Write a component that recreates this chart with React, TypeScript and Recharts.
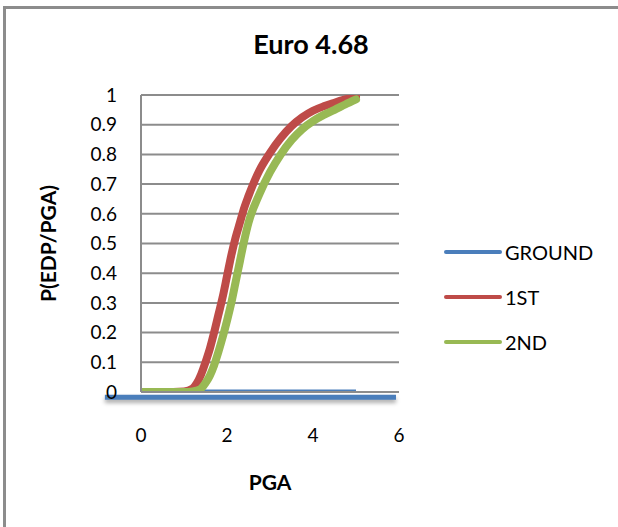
import React from 'react';
import {
  LineChart,
  Line,
  XAxis,
  YAxis,
  CartesianGrid,
  Legend,
  ReferenceLine,
} from 'recharts';

// PGA sample points shared by all three curves
const pga = [0, 0.5, 1.0, 1.2, 1.3, 1.4, 1.5, 1.6, 1.7, 1.8, 1.9, 2.0, 2.1, 2.2, 2.3, 2.4, 2.5, 2.75, 3.0, 3.25, 3.5, 3.75, 4.0, 4.25, 4.5, 4.75, 5.0];

// Exceedance probability per level
const ground = [0, 0, 0, 0, 0, 0, 0, 0, 0, 0, 0, 0, 0, 0, 0, 0, 0, 0, 0, 0, 0, 0, 0, 0, 0, 0, 0];
const first = [0, 0, 0.002, 0.012, 0.03, 0.06, 0.1, 0.145, 0.2, 0.26, 0.32, 0.39, 0.46, 0.52, 0.57, 0.62, 0.66, 0.745, 0.805, 0.855, 0.895, 0.925, 0.947, 0.962, 0.974, 0.985, 0.995];
const second = [0, 0, 0, 0.002, 0.005, 0.012, 0.03, 0.055, 0.09, 0.135, 0.185, 0.24, 0.3, 0.37, 0.44, 0.51, 0.57, 0.665, 0.74, 0.8, 0.848, 0.885, 0.912, 0.933, 0.95, 0.968, 0.985];

// Base stroke drawn under the ground series
const groundBase = [
  { x: -0.84, y: -0.018 },
  { x: 5.93, y: -0.018 },
];

const xTicks = [0, 2, 4, 6];
const yTicks = [0, 0.1, 0.2, 0.3, 0.4, 0.5, 0.6, 0.7, 0.8, 0.9, 1];

const seriesNames = ['GROUND', '1ST', '2ND'];
const seriesColors = ['#4a7ebb', '#be4b48', '#98b954'];

const data = pga.map((x, i) => ({
  pga: x,
  ground: ground[i],
  first: first[i],
  second: second[i],
}));

const FONT = 'Lato, "Open Sans", sans-serif';
const GRID = '#8c8c8c';

const LegendBox = () => (
  <div style={{ fontFamily: FONT, fontSize: 20, color: '#000' }}>
    {seriesNames.map((name, i) => (
      <div key={name} style={{ display: 'flex', alignItems: 'center', height: 45 }}>
        <svg width={60} height={10} style={{ display: 'block' }}>
          <line x1={3} y1={5} x2={57} y2={5} stroke={seriesColors[i]} strokeWidth={4} strokeLinecap="round" />
        </svg>
        <span style={{ marginLeft: 2 }}>{name}</span>
      </div>
    ))}
  </div>
);

export default function App() {
  return (
    <div style={{ position: 'absolute', left: 0, top: 0, width: 618, height: 527, background: '#fff', overflow: 'hidden' }}>
      <div
        style={{
          position: 'absolute',
          left: 3,
          top: 6,
          width: 620,
          height: 530,
          borderLeft: `3px solid ${GRID}`,
          borderTop: `3px solid ${GRID}`,
          boxSizing: 'border-box',
        }}
      />
      <div
        style={{
          position: 'absolute',
          left: 0,
          width: 622,
          top: 27,
          textAlign: 'center',
          fontFamily: FONT,
          fontWeight: 700,
          fontSize: 27,
          color: '#000',
        }}
      >
        Euro 4.68
      </div>
      <LineChart
        width={618}
        height={527}
        data={data}
        margin={{ top: 95, right: 219, bottom: 55, left: 81 }}
        style={{ position: 'absolute', left: 0, top: 0 }}
      >
        <CartesianGrid vertical={false} stroke={GRID} strokeWidth={2} />
        <XAxis
          type="number"
          dataKey="pga"
          domain={[0, 6]}
          allowDataOverflow
          ticks={xTicks}
          height={80}
          axisLine={{ stroke: GRID, strokeWidth: 2 }}
          tickLine={false}
          tickSize={0}
          tickMargin={37}
          tick={{ fill: '#000', fontSize: 19, fontFamily: FONT }}
          label={(props: any) => {
            const vb = props.viewBox;
            return (
              <text
                x={vb.x + vb.width / 2}
                y={481}
                textAnchor="middle"
                dominantBaseline="central"
                fontFamily={FONT}
                fontWeight={700}
                fontSize={21}
                fill="#000"
              >
                PGA
              </text>
            );
          }}
        />
        <YAxis
          type="number"
          domain={[0, 1]}
          allowDataOverflow
          ticks={yTicks}
          width={60}
          axisLine={{ stroke: GRID, strokeWidth: 2 }}
          tickLine={false}
          tickSize={0}
          tickMargin={24}
          tickFormatter={(v: number) => String(Math.round(v * 10) / 10)}
          tick={{ fill: '#000', fontSize: 19, fontFamily: FONT }}
          label={(props: any) => {
            const vb = props.viewBox;
            const cy = vb.y + vb.height / 2;
            return (
              <text
                x={47}
                y={cy}
                transform={`rotate(-90, 47, ${cy})`}
                textAnchor="middle"
                dominantBaseline="central"
                fontFamily={FONT}
                fontWeight={700}
                fontSize={21}
                fill="#000"
              >
                P(EDP/PGA)
              </text>
            );
          }}
        />
        <Line
          dataKey="ground"
          name={seriesNames[0]}
          stroke={seriesColors[0]}
          strokeWidth={5}
          dot={false}
          type="monotone"
          isAnimationActive={false}
        />
        <Line
          dataKey="first"
          name={seriesNames[1]}
          stroke={seriesColors[1]}
          strokeWidth={8}
          dot={false}
          type="monotone"
          strokeLinecap="round"
          isAnimationActive={false}
        />
        <Line
          dataKey="second"
          name={seriesNames[2]}
          stroke={seriesColors[2]}
          strokeWidth={8}
          dot={false}
          type="monotone"
          strokeLinecap="round"
          isAnimationActive={false}
        />
        <ReferenceLine
          segment={groundBase}
          stroke={seriesColors[0]}
          strokeWidth={5}
          ifOverflow="visible"
          style={{ filter: 'drop-shadow(0px 3px 2px rgba(0,0,0,0.35))' }}
        />
        <Legend
          layout="vertical"
          align="center"
          verticalAlign="middle"
          content={() => <LegendBox />}
          wrapperStyle={{ left: 443, top: 229, width: 170 }}
        />
      </LineChart>
    </div>
  );
}
